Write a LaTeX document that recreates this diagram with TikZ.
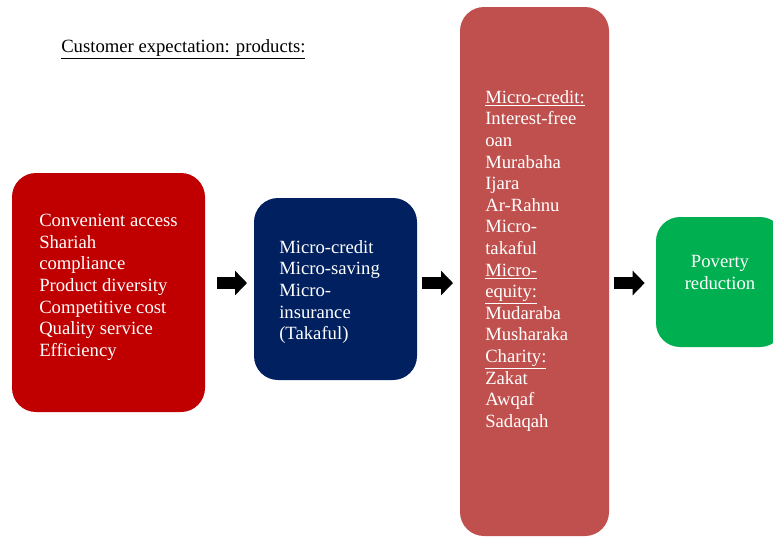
\documentclass[tikz,border=0pt]{standalone}
\usepackage{fontspec}
\setmainfont{Liberation Serif}
\usetikzlibrary{arrows.meta}

\definecolor{cred}{HTML}{C00000}
\definecolor{cnavy}{HTML}{002060}
\definecolor{crose}{HTML}{C0504D}
\definecolor{cgreen}{HTML}{00B050}

\begin{document}
\begin{tikzpicture}[x=0.75pt, y=-0.75pt, font={\fontsize{14}{16.2}\selectfont},
	box/.style={rectangle, rounded corners=18pt, draw=none, outer sep=0pt, inner sep=0pt},
	txt/.style={text=white, align=left, inner sep=0pt},
	blockarrow/.style={line width=9pt, -{Triangle[length=9pt, width=18pt]}}]
	
	\clip (0,0) rectangle (773,537);
	
	% Tiêu đề
	\node[anchor=base west, inner sep=0pt] (title) at (61,52) {\underline{Customer expectation: products:}};
	
	% Các khối
	\node[box, fill=cred, minimum width=144.75pt, minimum height=179.25pt] (expect) at (108.5,292.5) {};
	\node[box, fill=cnavy, minimum width=122.25pt, minimum height=136.5pt] (service) at (335.5,289) {};
	\node[box, fill=crose, minimum width=111.75pt, minimum height=396.75pt] (product) at (534.5,271.5) {};
	\node[box, fill=cgreen, minimum width=96pt, minimum height=97.5pt] (poverty) at (720,282) {};
	
	% Chữ trong các khối
	\node[txt, anchor=north west] (expecttxt) at (39,214) {Convenient access\\Shariah\\compliance\\Product diversity\\Competitive cost\\Quality service\\Efficiency};
	\node[txt, anchor=north west] (servicetxt) at (279,240) {Micro-credit\\Micro-saving\\Micro-\\insurance\\(Takaful)};
	\node[txt, anchor=north west] (producttxt) at (485,90) {\underline{Micro-credit:}\\Interest-free\\oan\\Murabaha\\Ijara\\Ar-Rahnu\\Micro-\\takaful\\\underline{Micro-}\\\underline{equity:}\\Mudaraba\\Musharaka\\\underline{Charity:}\\Zakat\\Awqaf\\Sadaqah};
	\node[txt, align=center, anchor=north] (povertytxt) at (720,255) {Poverty\\reduction};
	
	% Mũi tên
	\coordinate (ay) at (0,283);
	\draw[blockarrow, shorten <=9pt, shorten >=5.25pt] (expect.east |- ay) -- (service.west |- ay);
	\draw[blockarrow, shorten <=3.5pt, shorten >=5.25pt] (service.east |- ay) -- (product.west |- ay);
	\draw[blockarrow, shorten <=3.75pt, shorten >=8.5pt] (product.east |- ay) -- (poverty.west |- ay);
	
\end{tikzpicture}
\end{document}
